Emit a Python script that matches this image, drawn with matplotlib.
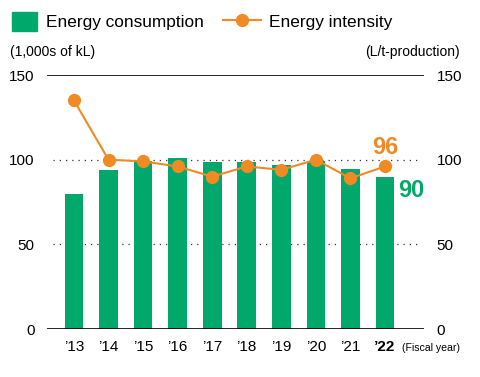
import matplotlib
matplotlib.use("Agg")
import matplotlib.pyplot as plt
import numpy as np
from matplotlib.lines import Line2D
from matplotlib.patches import Patch

years = ["’13", "’14", "’15", "’16", "’17", "’18", "’19", "’20", "’21", "’22"]
consumption = [80, 94, 99, 101, 98.5, 98.5, 97, 99, 94.5, 90]
intensity = [135, 100, 99, 96, 90, 96, 94, 100, 89, 96]

GREEN = "#00a86b"
ORANGE = "#f08a24"

plt.rcParams["font.family"] = ["Liberation Sans", "DejaVu Sans"]

fig = plt.figure(figsize=(4.81, 3.77), dpi=100)
ax = fig.add_axes([0.0977, 0.1273, 0.7838, 0.6737])
x = np.arange(len(years))

ax.bar(x, consumption, width=0.54, color=GREEN, zorder=2)
ax.set_ylim(0, 150)
ax.set_xlim(-0.78, 10.13)

ax2 = ax.twinx()
ax2.plot(x, intensity, "-o", color=ORANGE, lw=1.5, ms=8.5, zorder=3)
ax2.set_ylim(0, 150)

for a in (ax, ax2):
    for s in a.spines.values():
        s.set_visible(False)
    a.set_yticks([0, 50, 100, 150])
    a.tick_params(axis="y", length=0, labelsize=11, pad=9)
    a.patch.set_visible(False)

for yv in (50, 100):
    ax.plot([-0.6, 9.95], [yv, yv], color="#333333", lw=0.9, ls=(0, (1, 4)), zorder=1)
for yv in (0, 150):
    ax.axhline(yv, color="black", lw=1.2, zorder=4)

ax.set_xticks(x)
ax.set_xticklabels(years, fontsize=11)
ax.get_xticklabels()[-1].set_fontweight("bold")
ax.tick_params(axis="x", length=0, pad=8)

ax.text(9.5, -11.5, "(Fiscal year)", fontsize=7.6, va="center", ha="left",
        family=["Liberation Sans Narrow", "Liberation Sans"])

ax2.text(x[-1], intensity[-1] + 4.5, str(intensity[-1]), color=ORANGE, fontsize=17,
         fontweight="bold", ha="center", va="bottom")
ax.text(x[-1] + 0.37, consumption[-1] - 8, str(consumption[-1]), color=GREEN, fontsize=17,
        fontweight="bold", ha="left", va="center")

fig.text(0.021, 0.843, "(1,000s of kL)", fontsize=10, ha="left", va="bottom")
fig.text(0.955, 0.843, "(L/t-production)", fontsize=10, ha="right", va="bottom")

fig.legend([Patch(color=GREEN)], ["Energy consumption"], loc="upper left",
           bbox_to_anchor=(0.0, 1.0), frameon=False, fontsize=12.4,
           handlelength=1.45, handleheight=1.3, handletextpad=0.5,
           borderaxespad=0.3)
fig.legend([Line2D([0], [0], color=ORANGE, marker="o", lw=1.5, ms=8.5)],
           ["Energy intensity"], loc="upper left",
           bbox_to_anchor=(0.438, 1.0), frameon=False, fontsize=12.4,
           handlelength=2.2, handleheight=1.3, handletextpad=0.5,
           borderaxespad=0.3)

fig.savefig("out.png", dpi=100)
